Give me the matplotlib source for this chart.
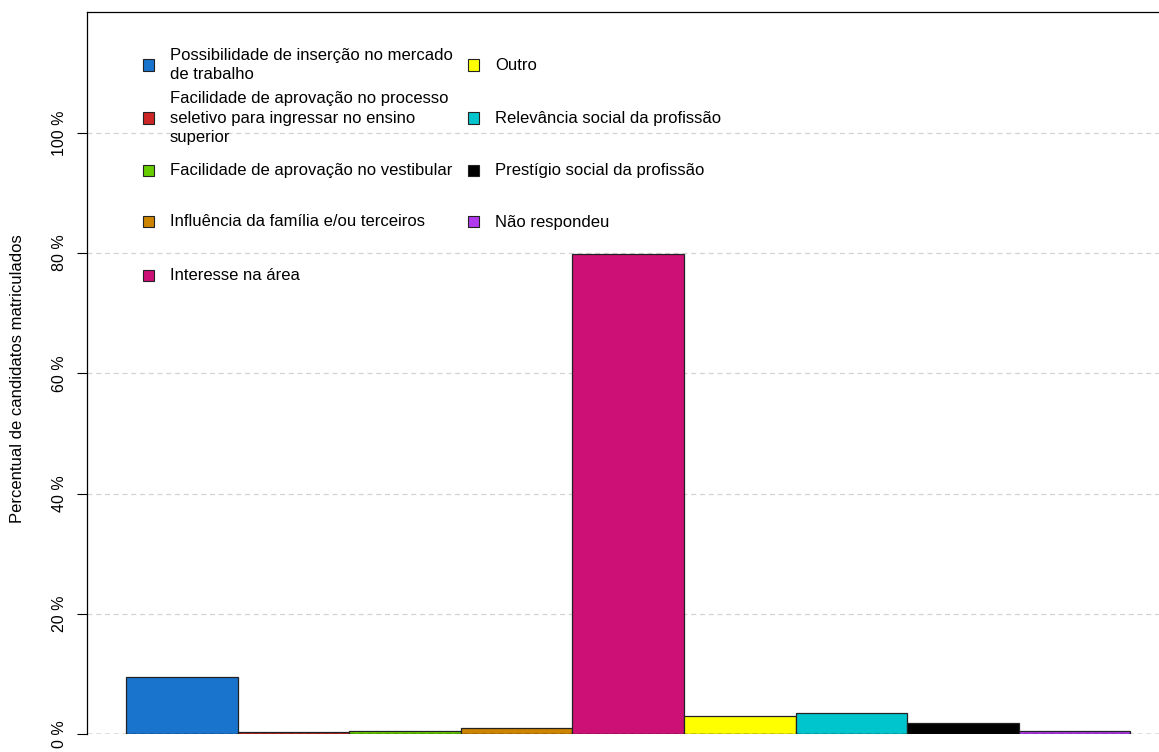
import matplotlib
matplotlib.use("Agg")
import matplotlib.pyplot as plt
from matplotlib.patches import Rectangle

categories = [
    "Possibilidade de inserção no mercado\nde trabalho",
    "Facilidade de aprovação no processo\nseletivo para ingressar no ensino\nsuperior",
    "Facilidade de aprovação no vestibular",
    "Influência da família e/ou terceiros",
    "Interesse na área",
    "Outro",
    "Relevância social da profissão",
    "Prestígio social da profissão",
    "Não respondeu",
]
values = [9.5, 0.3, 0.5, 0.95, 79.9, 3.05, 3.5, 1.8, 0.55]
colors = ["#1874CD", "#CD2626", "#66CD00", "#CD8500", "#CD1076",
          "#FFFF00", "#00C5CD", "#000000", "#B23AEE"]
yticks = [0, 20, 40, 60, 80, 100]
ytick_labels = ["0 %", "20 %", "40 %", "60 %", "80 %", "100 %"]
ylabel = "Percentual de candidatos matriculados"

plt.rcParams['font.family'] = ['Liberation Sans', 'DejaVu Sans']
W, H = 1159, 752
fig = plt.figure(figsize=(W / 100, H / 100), dpi=100)

def fx(px):
    return px / W

def fy(py):
    return 1 - py / H

ax = fig.add_axes([fx(87), fy(734), (1169.5 - 87) / W, (734 - 12) / H])
ax.set_xlim(-0.85, 8.85)
ax.set_ylim(0, 120.1)

for y in yticks[1:]:
    ax.axhline(y, color="#d3d3d3", lw=0.9, ls=(0, (4, 3)), zorder=0)

x = list(range(len(values)))
ax.bar(x, values, width=1.0, color=colors, edgecolor="#222222", linewidth=0.9, zorder=2)
ax.axhline(0, color="black", lw=0.9, ls=(0, (4, 3)), zorder=3)

ax.set_xticks([])
ax.set_yticks(yticks)
ax.set_yticklabels(ytick_labels, rotation=90, va="center", fontsize=11.5)
ax.tick_params(axis="y", length=7.2, width=0.8, pad=7)
for s in ["bottom", "right"]:
    ax.spines[s].set_visible(False)
for s in ["left", "top"]:
    ax.spines[s].set_linewidth(0.9)

fig.text(fx(18), fy(379), ylabel, rotation=90, ha="center", va="center", fontsize=12)

# legend (two columns, R-style uniform rows)
rows = [65, 118, 170, 222, 275]
col_marker = [148, 473]
col_text = [169.5, 495]
for i, (lab, c) in enumerate(zip(categories, colors)):
    col = 0 if i < 5 else 1
    r = i if i < 5 else i - 5
    yc = rows[r]
    fig.patches.append(Rectangle((fx(col_marker[col] - 5.5), fy(yc + 5.5)), 11 / W, 11 / H,
                                 transform=fig.transFigure, facecolor=c,
                                 edgecolor="#222222", linewidth=0.8, figure=fig))
    fig.text(fx(col_text[col]), fy(yc), lab, ha="left", va="center", fontsize=12,
             linespacing=1.4)

fig.savefig("out.png", dpi=100)
